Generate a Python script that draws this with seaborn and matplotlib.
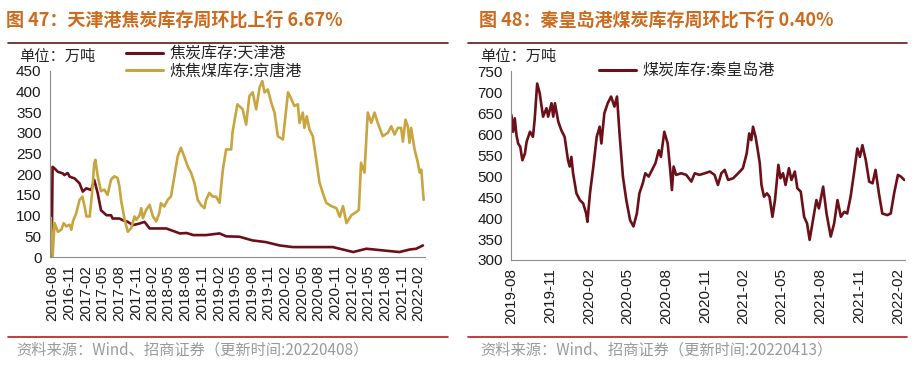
import pandas as pd
import seaborn as sns
import matplotlib.pyplot as plt
import matplotlib.dates as mdates
from matplotlib.lines import Line2D

# ---- data ----
tj_dates = ['2016-07-27', '2016-08-01', '2016-08-12', '2016-08-30', '2016-09-26', '2016-10-05',
            '2016-10-23', '2016-11-03', '2016-11-30', '2016-12-27', '2017-01-14', '2017-02-02',
            '2017-03-01', '2017-03-18', '2017-04-06', '2017-04-24', '2017-05-24', '2017-06-18',
            '2017-06-27', '2017-08-03', '2017-08-21', '2017-09-18', '2017-10-16', '2017-11-22',
            '2017-12-19', '2018-01-16', '2018-04-17', '2018-05-25', '2018-07-01', '2018-08-07',
            '2018-09-13', '2018-11-22', '2019-02-04', '2019-03-12', '2019-05-24', '2019-08-05',
            '2019-10-17', '2019-12-30', '2020-03-12', '2020-05-22', '2020-08-06', '2020-10-18',
            '2021-01-01', '2021-02-07', '2021-03-15', '2021-04-20', '2021-07-19', '2021-10-19',
            '2021-12-13', '2022-01-19', '2022-02-25']
tj_coke = [0, 218, 214, 206, 202, 198, 203, 194, 190, 178, 158, 166,
           162, 186, 154, 113, 101, 101, 93, 93, 89, 85, 77, 81,
           85, 69, 69, 63, 57, 58, 53, 53, 57, 50, 49, 40,
           36, 28, 24, 24, 24, 24, 16, 12, 16, 20, 16, 12,
           18, 20, 28]

jt_dates = ['2016-07-22', '2016-08-01', '2016-08-12', '2016-08-30', '2016-09-18', '2016-10-01',
            '2016-10-15', '2016-11-03', '2016-11-12', '2016-11-21', '2016-12-09', '2016-12-27',
            '2017-01-12', '2017-01-24', '2017-02-03', '2017-02-21', '2017-03-06', '2017-03-18',
            '2017-03-24', '2017-04-06', '2017-04-24', '2017-05-12', '2017-05-30', '2017-06-18',
            '2017-07-06', '2017-07-24', '2017-08-03', '2017-08-12', '2017-09-01', '2017-09-18',
            '2017-10-07', '2017-10-25', '2017-11-04', '2017-11-22', '2017-12-01', '2017-12-10',
            '2017-12-28', '2018-01-16', '2018-02-03', '2018-02-21', '2018-03-10', '2018-03-19',
            '2018-04-07', '2018-04-25', '2018-05-13', '2018-06-01', '2018-06-19', '2018-07-07',
            '2018-07-25', '2018-08-13', '2018-09-01', '2018-09-19', '2018-10-07', '2018-10-25',
            '2018-11-13', '2018-11-22', '2018-12-10', '2018-12-28', '2019-01-16', '2019-02-04',
            '2019-02-22', '2019-03-12', '2019-04-09', '2019-04-16', '2019-05-13', '2019-06-11',
            '2019-06-30', '2019-07-18', '2019-08-05', '2019-08-24', '2019-09-12', '2019-09-27',
            '2019-10-09', '2019-10-27', '2019-11-15', '2019-12-03', '2019-12-21', '2020-01-18',
            '2020-02-15', '2020-03-04', '2020-03-21', '2020-04-09', '2020-04-18', '2020-05-06',
            '2020-05-15', '2020-05-28', '2020-06-12', '2020-06-30', '2020-07-19', '2020-08-06',
            '2020-08-24', '2020-09-12', '2020-10-10', '2020-11-07', '2020-11-25', '2020-12-13',
            '2021-01-01', '2021-01-28', '2021-02-25', '2021-03-10', '2021-03-22', '2021-04-10',
            '2021-04-28', '2021-05-17', '2021-06-04', '2021-06-22', '2021-07-19', '2021-08-16',
            '2021-09-04', '2021-09-22', '2021-10-10', '2021-10-28', '2021-11-07', '2021-11-21',
            '2021-12-04', '2021-12-13', '2021-12-22', '2022-01-10', '2022-01-28', '2022-02-07',
            '2022-02-16', '2022-03-01']
jt_coal = [95, 0, 82, 61, 66, 82, 74, 78, 66, 86, 106, 138,
           146, 122, 98, 98, 155, 227, 235, 195, 159, 163, 150, 187,
           195, 191, 171, 138, 90, 61, 70, 98, 90, 101, 118, 94,
           114, 126, 98, 86, 106, 130, 122, 138, 146, 195, 243, 264,
           243, 219, 203, 179, 138, 126, 118, 138, 155, 146, 146, 131,
           211, 260, 260, 301, 369, 357, 320, 389, 398, 357, 410, 425,
           398, 405, 373, 349, 292, 284, 398, 382, 365, 369, 324, 349,
           312, 340, 308, 292, 235, 180, 155, 131, 123, 118, 97, 123,
           82, 101, 109, 114, 228, 204, 349, 324, 349, 324, 292, 300,
           316, 296, 312, 312, 279, 332, 316, 276, 312, 260, 228, 204,
           211, 138]

qhd_dates = ['2019-08-01', '2019-08-05', '2019-08-09', '2019-08-13', '2019-08-17', '2019-08-22',
             '2019-08-27', '2019-09-02', '2019-09-06', '2019-09-14', '2019-09-21', '2019-09-25',
             '2019-10-01', '2019-10-07', '2019-10-15', '2019-10-23', '2019-10-27', '2019-11-04',
             '2019-11-08', '2019-11-12', '2019-11-20', '2019-11-27', '2019-12-05', '2019-12-13',
             '2019-12-17', '2019-12-21', '2019-12-25', '2020-01-02', '2020-01-10', '2020-01-18',
             '2020-01-25', '2020-01-28', '2020-02-03', '2020-02-11', '2020-02-19', '2020-02-26',
             '2020-03-01', '2020-03-08', '2020-03-16', '2020-03-24', '2020-04-01', '2020-04-07',
             '2020-04-13', '2020-04-21', '2020-04-29', '2020-05-08', '2020-05-16', '2020-05-24',
             '2020-05-30', '2020-06-07', '2020-06-13', '2020-06-21', '2020-06-29', '2020-07-07',
             '2020-07-15', '2020-07-20', '2020-07-28', '2020-08-05', '2020-08-11', '2020-08-15',
             '2020-08-19', '2020-08-25', '2020-09-06', '2020-09-18', '2020-09-30', '2020-10-08',
             '2020-10-19', '2020-11-01', '2020-11-13', '2020-11-24', '2020-12-02', '2020-12-10',
             '2020-12-18', '2020-12-26', '2021-01-07', '2021-01-19', '2021-01-30', '2021-02-08',
             '2021-02-14', '2021-02-19', '2021-02-23', '2021-03-01', '2021-03-05', '2021-03-11',
             '2021-03-15', '2021-03-21', '2021-03-28', '2021-04-03', '2021-04-10', '2021-04-16',
             '2021-04-24', '2021-04-29', '2021-05-05', '2021-05-11', '2021-05-19', '2021-05-25',
             '2021-06-02', '2021-06-08', '2021-06-16', '2021-06-24', '2021-07-01', '2021-07-07',
             '2021-07-15', '2021-07-23', '2021-07-29', '2021-08-08', '2021-08-16', '2021-08-26',
             '2021-09-03', '2021-09-11', '2021-09-19', '2021-09-27', '2021-10-04', '2021-10-12',
             '2021-10-20', '2021-10-28', '2021-11-03', '2021-11-09', '2021-11-17', '2021-11-25',
             '2021-12-03', '2021-12-10', '2021-12-18', '2021-12-26', '2022-01-07', '2022-01-15',
             '2022-01-23', '2022-02-01', '2022-02-08', '2022-02-16']
qhd_coal = [646, 606, 638, 598, 578, 570, 538, 554, 582, 606, 594, 634,
            721, 698, 642, 662, 642, 674, 642, 674, 630, 610, 594, 538,
            523, 546, 507, 459, 443, 435, 411, 391, 459, 523, 594, 618,
            578, 650, 674, 690, 666, 690, 602, 499, 443, 395, 380, 411,
            459, 483, 507, 499, 515, 531, 562, 546, 606, 578, 515, 467,
            523, 503, 507, 503, 487, 507, 503, 507, 511, 503, 479, 507,
            515, 491, 495, 507, 519, 554, 602, 586, 618, 594, 570, 531,
            479, 451, 459, 451, 403, 443, 527, 495, 507, 479, 519, 491,
            511, 471, 463, 403, 387, 348, 395, 443, 423, 475, 411, 356,
            387, 443, 403, 415, 411, 451, 507, 566, 546, 574, 538, 487,
            483, 515, 459, 411, 407, 411, 459, 503, 499, 491]

dark_red = '#6B0F18'
gold = '#C9A540'
title_color = '#CC6A1E'

sns.set_style('white')
plt.rcParams['font.family'] = ['Noto Sans CJK SC', 'DejaVu Sans']

left_df = pd.concat([
    pd.DataFrame({'date': pd.to_datetime(tj_dates), 'value': tj_coke, 'series': '焦炭库存:天津港'}),
    pd.DataFrame({'date': pd.to_datetime(jt_dates), 'value': jt_coal, 'series': '炼焦煤库存:京唐港'}),
])
right_df = pd.DataFrame({'date': pd.to_datetime(qhd_dates), 'value': qhd_coal, 'series': '煤炭库存:秦皇岛港'})

fig = plt.figure(figsize=(9.23, 3.68), dpi=100)
ax1 = fig.add_axes([0.054, 0.3016, 0.406, 0.506])
ax2 = fig.add_axes([0.5536, 0.2935, 0.427, 0.5125])

sns.lineplot(data=left_df, x='date', y='value', hue='series', ax=ax1,
             palette={'焦炭库存:天津港': dark_red, '炼焦煤库存:京唐港': gold}, linewidth=1.9, legend=False)
sns.lineplot(data=right_df, x='date', y='value', ax=ax2, color=dark_red, linewidth=1.9, legend=False)

ax1.set_xlim(pd.Timestamp('2016-07-17'), pd.Timestamp('2022-03-06'))
ax1.set_ylim(0, 450)
ax1.set_yticks(range(0, 451, 50))
ax2.set_xlim(pd.Timestamp('2019-07-31'), pd.Timestamp('2022-02-18'))
ax2.set_ylim(300, 750)
ax2.set_yticks(range(300, 751, 50))

for ax in (ax1, ax2):
    ax.xaxis.set_major_locator(mdates.MonthLocator(bymonth=[2, 5, 8, 11]))
    ax.xaxis.set_major_formatter(mdates.DateFormatter('%Y-%m'))
    ax.set_xlabel('')
    ax.set_ylabel('')
    for s in ('top', 'right'):
        ax.spines[s].set_visible(False)
    for s in ('left', 'bottom'):
        ax.spines[s].set_color('#8C8C8C')
        ax.spines[s].set_linewidth(0.8)
    ax.tick_params(axis='both', which='major', direction='out', length=4, width=0.8,
                   color='#8C8C8C', labelsize=11, pad=2)
    for lab in ax.get_xticklabels() + ax.get_yticklabels():
        lab.set_fontfamily(['Liberation Sans', 'DejaVu Sans'])
        lab.set_color('#1A1A1A')
    plt.setp(ax.get_xticklabels(), rotation=90)

# legends
h1 = [Line2D([], [], color=dark_red, lw=2.2), Line2D([], [], color=gold, lw=2.2)]
fig.legend(h1, ['焦炭库存:天津港', '炼焦煤库存:京唐港'], loc='upper left',
           bbox_to_anchor=(0.137, 0.877), frameon=False, fontsize=11.5,
           handlelength=2.3, handletextpad=0.4, labelspacing=0.05, borderpad=0, borderaxespad=0)
h2 = [Line2D([], [], color=dark_red, lw=2.2)]
fig.legend(h2, ['煤炭库存:秦皇岛港'], loc='upper left',
           bbox_to_anchor=(0.649, 0.83), frameon=False, fontsize=11.5,
           handlelength=2.3, handletextpad=0.4, borderpad=0, borderaxespad=0)

# titles, units, rules and source notes
fig.text(0.006, 0.945, '图 47：天津港焦炭库存周环比上行 6.67%', color=title_color,
         fontsize=13, fontweight='bold', va='center')
fig.text(0.519, 0.945, '图 48：秦皇岛港煤炭库存周环比下行 0.40%', color=title_color,
         fontsize=13, fontweight='bold', va='center')
for x0 in (0.021, 0.52):
    fig.text(x0, 0.848, '单位：万吨', fontsize=11, va='center')
for x0, x1 in ((0.009, 0.485), (0.507, 0.983)):
    fig.add_artist(Line2D([x0, x1], [0.883, 0.883], color='#5C1A16', lw=1.2))
    fig.add_artist(Line2D([x0, x1], [0.084, 0.084], color='#C0161C', lw=1.2))
fig.text(0.018, 0.048, '资料来源：Wind、招商证券（更新时间:20220408）', color='#9A9A9A',
         fontsize=11, va='center')
fig.text(0.52, 0.048, '资料来源：Wind、招商证券（更新时间:20220413）', color='#9A9A9A',
         fontsize=11, va='center')

fig.savefig('out.png', dpi=100)
